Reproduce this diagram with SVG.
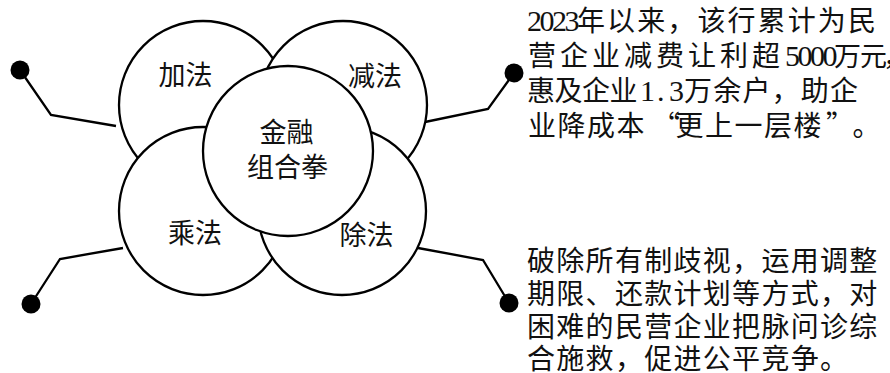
<svg xmlns="http://www.w3.org/2000/svg" width="890" height="373" viewBox="0 0 890 373">
<style>
.c{fill:#fff;stroke:#000;stroke-width:2.3}
.lbl{font-family:"Noto Sans CJK SC",sans-serif;font-size:27px;fill:#111;text-anchor:middle}
.ln{fill:none;stroke:#000;stroke-width:2.3;stroke-linejoin:miter}
.dot{fill:#000}
.t{font-family:"Noto Sans CJK SC",sans-serif;font-size:28px;fill:#111}
.d{font-family:"Liberation Serif",serif;font-size:30px;letter-spacing:-2.5px}
</style>
<rect width="890" height="373" fill="#fff"/>
<g id="connectors">
<polyline class="ln" points="20,70 51,115 116,126"/>
<circle class="dot" cx="20" cy="70" r="9.5"/>
<polyline class="ln" points="123,248 60,259 31,304"/>
<circle class="dot" cx="31" cy="304" r="9.5"/>
<polyline class="ln" points="425,122 488,109 514,73"/>
<circle class="dot" cx="514" cy="73" r="9.5"/>
<polyline class="ln" points="418,248 483,260 509,303"/>
<circle class="dot" cx="509" cy="303" r="9.5"/>
</g>
<g id="node-add"><circle class="c" cx="203" cy="105" r="84"/><text class="lbl" x="185.5" y="85">加法</text></g>
<g id="node-sub"><circle class="c" cx="343" cy="105" r="84"/><text class="lbl" x="375" y="86">减法</text></g>
<g id="node-mul"><circle class="c" cx="203" cy="211" r="84"/><text class="lbl" x="195" y="243">乘法</text></g>
<g id="node-div"><circle class="c" cx="342" cy="211" r="84"/><text class="lbl" x="366.5" y="245">除法</text></g>
<g id="node-center"><circle class="c" cx="288" cy="151" r="85"/><text class="lbl" x="286.5" y="142">金融</text><text class="lbl" x="287.5" y="177">组合拳</text></g>
<g id="text-top">
<text class="t" y="31"><tspan class="d" x="527">2023</tspan><tspan x="577" letter-spacing="2.1">年以来，该行累计为民</tspan></text>
<text class="t" y="66"><tspan x="528" letter-spacing="4">营企业减费让利超</tspan><tspan class="d" x="785">5000</tspan><tspan x="834 860 883" font-size="27">万元，</tspan></text>
<text class="t" y="101"><tspan x="527" letter-spacing="-0.5">惠及企业</tspan><tspan class="d" x="640 657 669">1.3</tspan><tspan x="684" letter-spacing="1.2">万余户，助企</tspan></text>
<text class="t" y="136" x="528 557.5 587 616.5 652 675.5 705 734.5 764 793.5 826 852.5">业降成本“更上一层楼”。</text>
</g>
<g id="text-bottom">
<text class="t" y="271" x="527" letter-spacing="1.3">破除所有制歧视，运用调整</text>
<text class="t" y="304" x="527" letter-spacing="1.3">期限、还款计划等方式，对</text>
<text class="t" y="337" x="527" letter-spacing="1.3">困难的民营企业把脉问诊综</text>
<text class="t" y="369" x="527" letter-spacing="1.3">合施救，促进公平竞争。</text>
</g>
</svg>
